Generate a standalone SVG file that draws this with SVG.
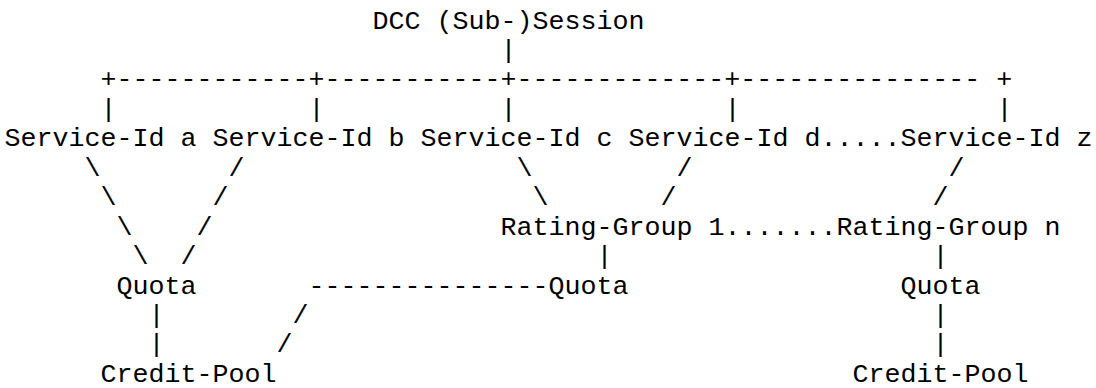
<svg xmlns="http://www.w3.org/2000/svg" width="1096" height="388" viewBox="0 0 1096 388">
<style>
text{font-family:"Liberation Mono","Courier New",monospace;font-size:26.67px;fill:#000;white-space:pre}
</style>
<rect width="1096" height="388" fill="#fff"/>
<g id="connectors" xml:space="preserve">
<text x="500.5" y="57.95">|</text>
<text x="100.5" y="87.4">+------------+-----------+-------------+--------------- +</text>
<text x="100.5" y="116.85">|</text><text x="308.5" y="116.85">|</text><text x="500.5" y="116.85">|</text><text x="724.5" y="116.85">|</text><text x="996.5" y="116.85">|</text>
<text x="84.5" y="175.75">\</text><text x="228.5" y="175.75">/</text><text x="516.5" y="175.75">\</text><text x="676.5" y="175.75">/</text><text x="948.5" y="175.75">/</text>
<text x="100.5" y="205.2">\</text><text x="212.5" y="205.2">/</text><text x="532.5" y="205.2">\</text><text x="660.5" y="205.2">/</text><text x="932.5" y="205.2">/</text>
<text x="116.5" y="234.65">\</text><text x="196.5" y="234.65">/</text>
<text x="132.5" y="264.1">\</text><text x="180.5" y="264.1">/</text><text x="596.5" y="264.1">|</text><text x="932.5" y="264.1">|</text>
<text x="308.5" y="293.55">---------------</text>
<text x="148.5" y="323">|</text><text x="292.5" y="323">/</text><text x="932.5" y="323">|</text>
<text x="148.5" y="352.45">|</text><text x="276.5" y="352.45">/</text><text x="932.5" y="352.45">|</text>
</g>
<g id="session"><text x="372.5" y="28.5">DCC (Sub-)Session</text></g>
<g id="service-a"><text x="4.5" y="146.3">Service-Id a</text></g>
<g id="service-b"><text x="212.5" y="146.3">Service-Id b</text></g>
<g id="service-c"><text x="420.5" y="146.3">Service-Id c</text></g>
<g id="service-d"><text x="628.5" y="146.3">Service-Id d</text></g>
<g id="service-ellipsis"><text x="820.5" y="146.3">.....</text></g>
<g id="service-z"><text x="900.5" y="146.3">Service-Id z</text></g>
<g id="rating-group-1"><text x="500.5" y="234.65">Rating-Group 1</text></g>
<g id="rating-ellipsis"><text x="724.5" y="234.65">.......</text></g>
<g id="rating-group-n"><text x="836.5" y="234.65">Rating-Group n</text></g>
<g id="quota-1"><text x="116.5" y="293.55">Quota</text></g>
<g id="quota-2"><text x="548.5" y="293.55">Quota</text></g>
<g id="quota-3"><text x="900.5" y="293.55">Quota</text></g>
<g id="credit-pool-1"><text x="100.5" y="381.9">Credit-Pool</text></g>
<g id="credit-pool-2"><text x="852.5" y="381.9">Credit-Pool</text></g>
</svg>
